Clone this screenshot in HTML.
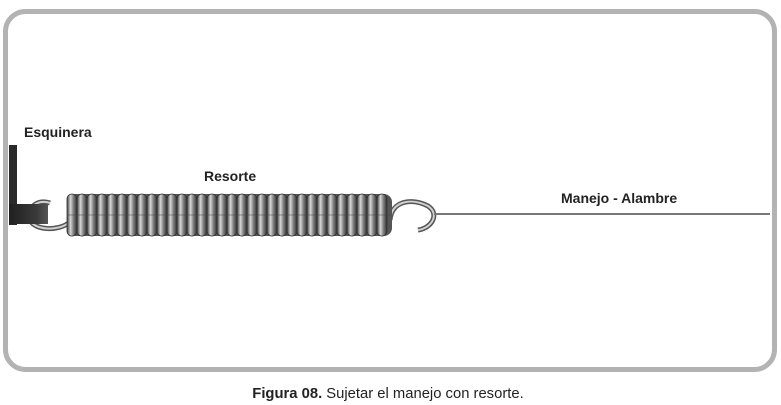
<!DOCTYPE html>
<html><head><meta charset="utf-8"><style>
html,body{margin:0;padding:0;background:#fff;}
svg{display:block;}
text{font-family:"Liberation Sans",sans-serif;}
</style></head><body>
<svg width="781" height="405" viewBox="0 0 781 405" xmlns="http://www.w3.org/2000/svg">
<defs>
<linearGradient id="coil" x1="0" y1="0" x2="1" y2="0">
<stop offset="0" stop-color="#3a3a3a"/><stop offset="0.35" stop-color="#d8d8d8"/><stop offset="0.6" stop-color="#8a8a8a"/><stop offset="1" stop-color="#2e2e2e"/>
</linearGradient>
<linearGradient id="plate" x1="0" y1="0" x2="1" y2="0">
<stop offset="0" stop-color="#1f1f1f"/><stop offset="0.7" stop-color="#3a3a3a"/><stop offset="1" stop-color="#555"/>
</linearGradient>
</defs>
<rect x="5.5" y="11.5" width="769" height="358" rx="20" fill="#fff" stroke="#b3b3b3" stroke-width="5"/>
<rect x="9" y="145" width="8" height="80" fill="#2a2a2a"/>
<path d="M50 203 C36 198 26 210 30 220 C34 230 58 232 70 222" fill="none" stroke="#555" stroke-width="5"/>
<path d="M50 203 C36 198 26 210 30 220 C34 230 58 232 70 222" fill="none" stroke="#d0d0d0" stroke-width="2"/>
<rect x="9" y="204" width="39" height="20" fill="url(#plate)"/>
<path d="M390 220 C392 200 412 198 428 206 C440 214 432 228 418 230" fill="none" stroke="#555" stroke-width="5"/>
<path d="M390 220 C392 200 412 198 428 206 C440 214 432 228 418 230" fill="none" stroke="#d0d0d0" stroke-width="2"/>
<line x1="434" y1="214" x2="770" y2="214" stroke="#777" stroke-width="2"/>
<rect x="67" y="194" width="325" height="42" rx="8" fill="#555"/>
<g fill="url(#coil)" stroke="#333" stroke-width="0.8">
<rect x="67" y="194" width="10" height="42" rx="5"/><rect x="77" y="194" width="10" height="42" rx="5"/><rect x="87" y="194" width="10" height="42" rx="5"/><rect x="97" y="194" width="10" height="42" rx="5"/><rect x="107" y="194" width="10" height="42" rx="5"/><rect x="117" y="194" width="10" height="42" rx="5"/><rect x="127" y="194" width="10" height="42" rx="5"/><rect x="137" y="194" width="10" height="42" rx="5"/><rect x="147" y="194" width="10" height="42" rx="5"/><rect x="157" y="194" width="10" height="42" rx="5"/><rect x="167" y="194" width="10" height="42" rx="5"/><rect x="177" y="194" width="10" height="42" rx="5"/><rect x="187" y="194" width="10" height="42" rx="5"/><rect x="197" y="194" width="10" height="42" rx="5"/><rect x="207" y="194" width="10" height="42" rx="5"/><rect x="217" y="194" width="10" height="42" rx="5"/><rect x="227" y="194" width="10" height="42" rx="5"/><rect x="237" y="194" width="10" height="42" rx="5"/><rect x="247" y="194" width="10" height="42" rx="5"/><rect x="257" y="194" width="10" height="42" rx="5"/><rect x="267" y="194" width="10" height="42" rx="5"/><rect x="277" y="194" width="10" height="42" rx="5"/><rect x="287" y="194" width="10" height="42" rx="5"/><rect x="297" y="194" width="10" height="42" rx="5"/><rect x="307" y="194" width="10" height="42" rx="5"/><rect x="317" y="194" width="10" height="42" rx="5"/><rect x="327" y="194" width="10" height="42" rx="5"/><rect x="337" y="194" width="10" height="42" rx="5"/><rect x="347" y="194" width="10" height="42" rx="5"/><rect x="357" y="194" width="10" height="42" rx="5"/><rect x="367" y="194" width="10" height="42" rx="5"/><rect x="377" y="194" width="10" height="42" rx="5"/>
</g>
<line x1="67" y1="215" x2="390" y2="215" stroke="#444" stroke-width="1" opacity="0.5"/>
<text x="24" y="137" font-size="14" font-weight="bold" fill="#222">Esquinera</text>
<text x="204" y="181" font-size="14" font-weight="bold" fill="#222">Resorte</text>
<text x="561" y="203" font-size="14" font-weight="bold" fill="#222">Manejo - Alambre</text>
<text x="388" y="398" font-size="14.8" text-anchor="middle" fill="#222"><tspan font-weight="bold">Figura 08.</tspan> Sujetar el manejo con resorte.</text>
</svg>
</body></html>
